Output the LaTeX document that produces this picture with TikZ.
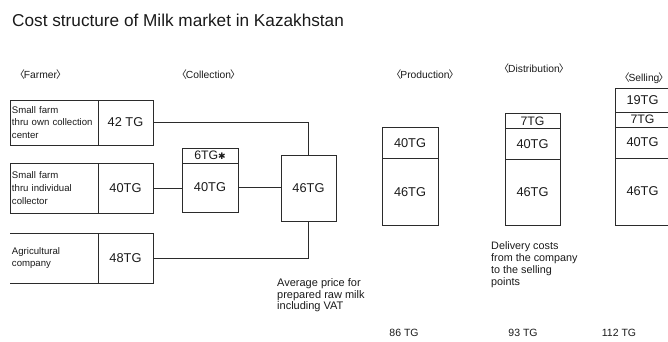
\documentclass[tikz,border=0pt]{standalone}
\usepackage{fontspec}
\setmainfont{Liberation Sans}
\newfontfamily\cjkfont{Noto Sans CJK JP}
\newfontfamily\symfont{DejaVu Sans}
\newcommand{\lbr}{{\cjkfont 〈}\kern-1pt}
\newcommand{\rbr}{\kern-1pt{\cjkfont 〉}}
\newcommand{\fsz}[2]{\fontsize{#1}{#2}\selectfont}
\definecolor{inkc}{HTML}{1A1A1A}
\definecolor{linec}{HTML}{2B2B2B}

\begin{document}
\begin{tikzpicture}[x=1pt,y=-1pt,
  every node/.style={text=inkc},
  cell/.style={draw=linec, line width=0.9pt, rectangle, inner sep=0pt,
    outer sep=0pt, anchor=north west, font=\fsz{12.8}{14}},
  smallcell/.style={cell, font=\fsz{12.3}{13}},
  farmtext/.style={cell, align=left, inner xsep=2pt, text width=84pt,
    minimum width=88pt, font=\fsz{9.6}{12.7}},
  stage/.style={font=\fsz{10.3}{12}, inner sep=0pt},
  note/.style={anchor=north west, align=left, inner sep=0pt},
  total/.style={font=\fsz{10.5}{12}, inner sep=0pt},
  link/.style={draw=linec, line width=0.9pt}]

\useasboundingbox (0,0) rectangle (668,341);
\clip (0,0) rectangle (668,341);

% title and stage headings
\node[anchor=base west, inner sep=0pt, font=\fsz{17.2}{20}] (title) at (12,26)
  {Cost structure of Milk market in Kazakhstan};
\node[stage] (hfarm) at (40.5,75) {\lbr Farmer\rbr};
\node[stage] (hcoll) at (208.5,75) {\lbr Collection\rbr};
\node[stage] (hprod) at (425,75) {\lbr Production\rbr};
\node[stage] (hdist) at (534,69) {\lbr Distribution\rbr};
\node[stage] (hsell) at (644,78) {\lbr Selling\rbr};

% farmer boxes
\node[farmtext, minimum height=45pt] (f1t) at (10,100)
  {Small farm\\thru own collection\\center};
\node[cell, minimum width=55pt, minimum height=45pt] (f1v) at (98,100) {42 TG};

\node[farmtext, minimum height=50pt] (f2t) at (10,163)
  {Small farm\\thru individual\\collector};
\node[cell, minimum width=55pt, minimum height=50pt] (f2v) at (98,163) {40TG};

\node[farmtext, draw=none, minimum height=50pt] (f3t) at (10,233)
  {Agricultural\\company};
\node[cell, minimum width=55pt, minimum height=50pt] (f3v) at (98,233) {48TG};
\draw[link] (f3t.north west) -- (f3v.north west);
\draw[link] (f3t.south west) -- (f3v.south west);

% collection
\node[smallcell, minimum width=56pt, minimum height=15pt] (ctop) at (182,148)
  {6TG{\symfont\fsz{9}{10}✱}};
\node[cell, minimum width=56pt, minimum height=49pt] (col) at (182,163) {40TG};
\node[cell, minimum width=55pt, minimum height=66pt] (c46) at (281,155) {46TG};

% connectors
\draw[link] (f1v.east) -| (c46.north);
\draw[link] (f2v.east) -- (f2v.east -| col.west);
\draw[link] (col.east) -- (col.east -| c46.west);
\draw[link] (c46.south) |- (f3v.east);

% production
\node[cell, minimum width=56pt, minimum height=31.5pt] (p40) at (382,127) {40TG};
\node[cell, minimum width=56pt, minimum height=66.5pt] (p46) at (382,158.5) {46TG};

% distribution
\node[smallcell, minimum width=55pt, minimum height=15pt] (d7) at (505,113.5) {7TG};
\node[cell, minimum width=55pt, minimum height=31pt] (d40) at (505,128.5) {40TG};
\node[cell, minimum width=55pt, minimum height=65.5pt] (d46) at (505,159.5) {46TG};

% selling
\node[cell, minimum width=55pt, minimum height=24.5pt] (s19) at (615,88) {19TG};
\node[smallcell, minimum width=55pt, minimum height=14.5pt] (s7) at (615,112.5) {7TG};
\node[cell, minimum width=55pt, minimum height=31pt] (s40) at (615,127) {40TG};
\node[cell, minimum width=55pt, minimum height=67pt] (s46) at (615,158) {46TG};

% notes
\node[note, font=\fsz{11}{11.4}] (avg) at (277,278.5)
  {Average price for\\prepared raw milk\\including VAT};
\node[note, font=\fsz{10.8}{12.2}] (deliv) at (491,241)
  {Delivery costs\\from the company\\to the selling\\points};

% totals
\node[total] (tprod) at (404,333) {86 TG};
\node[total] (tdist) at (523,333) {93 TG};
\node[total] (tsell) at (619,333) {112 TG};
\end{tikzpicture}
\end{document}
